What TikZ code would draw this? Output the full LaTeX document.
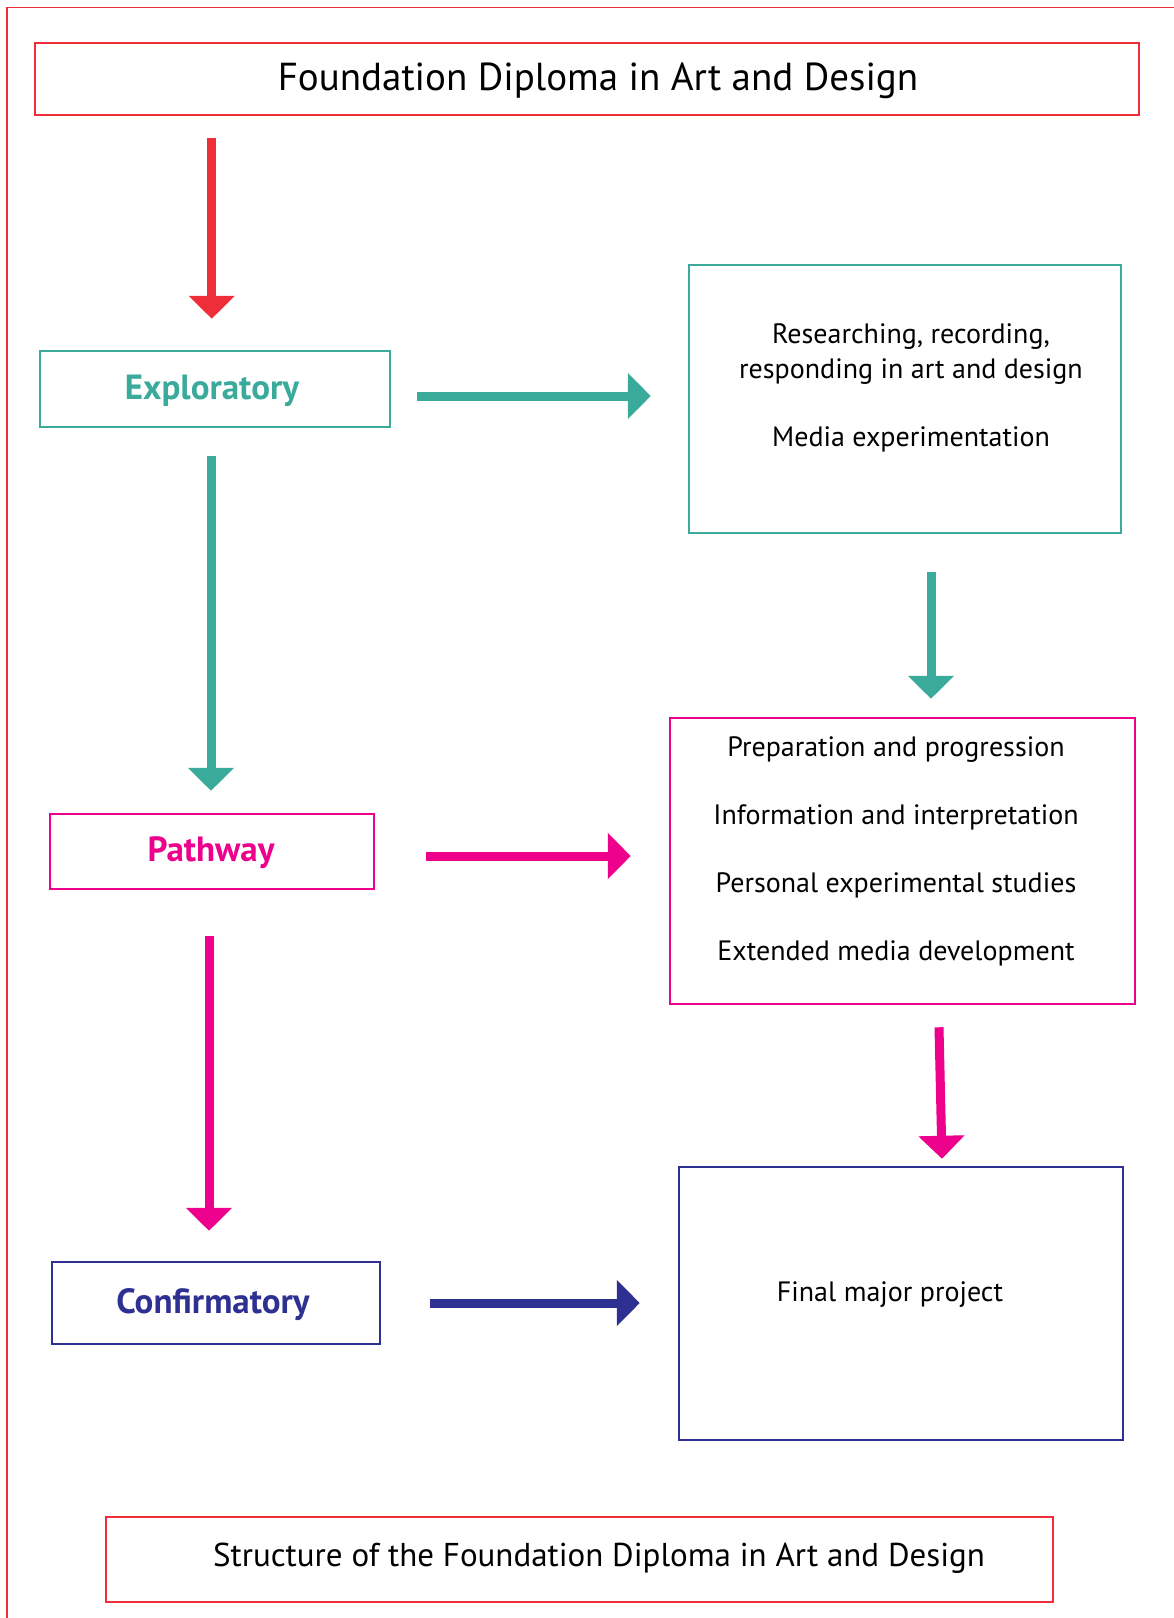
\documentclass[tikz,border=0pt]{standalone}
\usepackage{fontspec}
\setmainfont{PT Sans}
\usetikzlibrary{arrows.meta,calc}
\definecolor{tealc}{HTML}{3AAB9B}
\definecolor{pinkc}{HTML}{EC008C}
\definecolor{navyc}{HTML}{2E3192}
\definecolor{redc}{HTML}{EE2E38}
\tikzset{
  box/.style={draw, line width=2.5pt, inner sep=0pt},
  bodytext/.style={font=\fontsize{28}{35}\selectfont, align=center, inner sep=0pt},
  labeltext/.style={font=\fontsize{35}{40}\selectfont\bfseries, inner sep=0pt},
  fatarrow/.style={line width=9pt, -{Triangle[width=45pt,length=23pt]}},
}
\begin{document}
\begin{tikzpicture}[x=1pt,y=-1pt]
\useasboundingbox (0,0) rectangle (1174,1618);
% outer frame (only top and left visible)
\draw[redc, line width=1.2pt] (7,7.5) -- (1174,7.5);
\draw[redc, line width=2pt] (7,7) -- (7,1618);
% boxes
\node[box, redc, minimum width=1104pt, minimum height=72pt] (title) at (587,79) {};
\node[font=\fontsize{39}{46}\selectfont, text=black, inner sep=0pt] (titletext) at (598,81) {Foundation Diploma in Art and Design};
\node[box, tealc, minimum width=350pt, minimum height=76pt] (expl) at (215,389) {};
\node[labeltext, text=tealc] (expltext) at (212,391) {Exploratory};
\node[box, tealc, minimum width=432pt, minimum height=268pt] (res) at (905,399) {};
\node[bodytext] (restext) at (911,388) {Researching, recording,\\responding in art and design\\[33pt]Media experimentation};
\node[box, pinkc, minimum width=324pt, minimum height=75pt] (path) at (212,851.5) {};
\node[labeltext, text=pinkc] (pathtext) at (211,853) {Pathway};
\node[box, pinkc, minimum width=465pt, minimum height=286pt] (prep) at (902.5,861) {};
\node[bodytext, font=\fontsize{28}{68}\selectfont] (preptext) at (896,851) {Preparation and progression\\Information and interpretation\\Personal experimental studies\\Extended media development};
\node[box, navyc, minimum width=328pt, minimum height=82pt] (conf) at (216,1303) {};
\node[labeltext, text=navyc] (conftext) at (213,1305) {Confirmatory};
\node[box, navyc, minimum width=444pt, minimum height=273pt] (final) at (901,1303.5) {};
\node[bodytext] (finaltext) at (890,1295) {Final major project};
\node[box, redc, minimum width=947pt, minimum height=85pt] (bottom) at (579.5,1559.5) {};
\node[font=\fontsize{33}{40}\selectfont, inner sep=0pt] (bottomtext) at (599,1558) {Structure of the Foundation Diploma in Art and Design};
% arrows
\draw[fatarrow, redc] ($(title.south west)+(178,22)$) -- ($(expl.north west)+(173,-31)$);
\draw[fatarrow, tealc] ($(expl.east)+(26,7)$) -- ($(res.west)+(-37,-3)$);
\draw[fatarrow, tealc] ($(expl.south)+(-4,28)$) -- ($(path.north)+(-1,-22)$);
\draw[fatarrow, tealc] ($(res.south)+(26,38)$) -- ($(prep.north)+(28.5,-18)$);
\draw[fatarrow, pinkc] ($(path.east)+(51,4.5)$) -- ($(prep.west)+(-38,-5)$);
\draw[fatarrow, pinkc] ($(path.south)+(-3,46)$) -- ($(conf.north)+(-7,-30)$);
\draw[fatarrow, pinkc] ($(prep.south)+(36.5,22)$) -- ($(final.north)+(41,-7)$);
\draw[fatarrow, navyc] ($(conf.east)+(49,0)$) -- ($(final.west)+(-38,-0.5)$);
\end{tikzpicture}
\end{document}
